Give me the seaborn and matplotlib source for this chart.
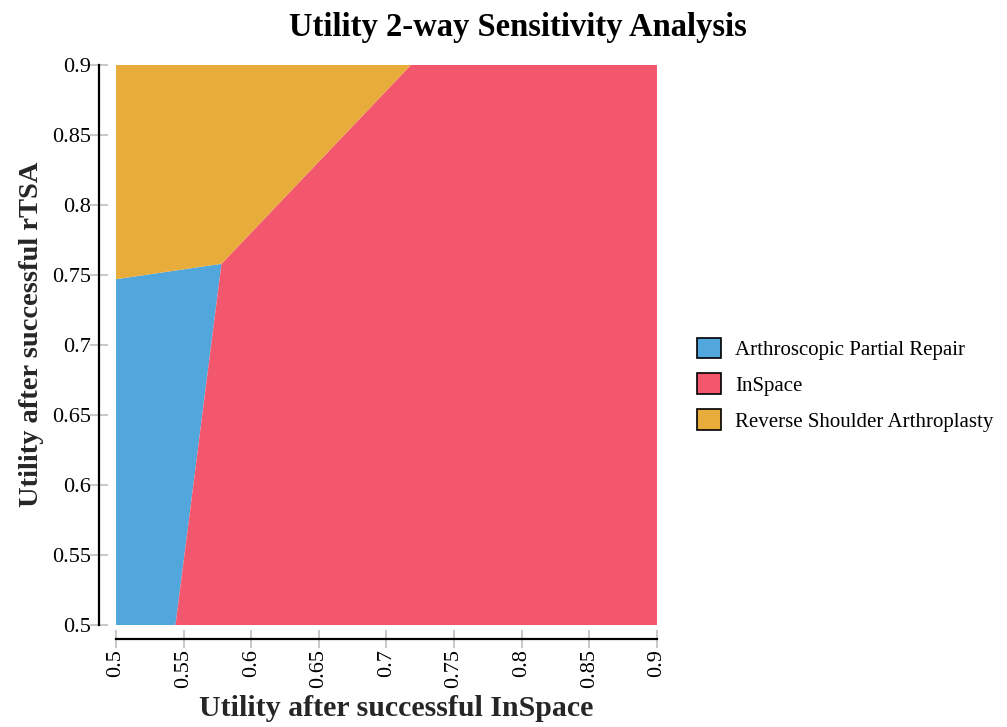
import matplotlib
matplotlib.use('Agg')
import matplotlib.pyplot as plt
import seaborn as sns
from matplotlib.patches import Patch

sns.set_theme(style='ticks')
plt.rcParams['font.family'] = ['Liberation Serif', 'DejaVu Serif']
plt.rcParams['text.color'] = 'black'

# strategy regions (boundary vertices)
strategies = ['Arthroscopic Partial Repair', 'InSpace', 'Reverse Shoulder Arthroplasty']
colors = ['#51A7DB', '#F3576E', '#E8AC3B']

apr_x = [0.5, 0.544, 0.578, 0.5]
apr_y = [0.5, 0.5, 0.758, 0.747]
insp_x = [0.544, 0.9, 0.9, 0.718, 0.578]
insp_y = [0.5, 0.5, 0.9, 0.9, 0.758]
rsa_x = [0.5, 0.578, 0.718, 0.5]
rsa_y = [0.747, 0.758, 0.9, 0.9]

ticks = [0.5, 0.55, 0.6, 0.65, 0.7, 0.75, 0.8, 0.85, 0.9]
tick_labels = ['0.5', '0.55', '0.6', '0.65', '0.7', '0.75', '0.8', '0.85', '0.9']

fig = plt.figure(figsize=(10.07, 7.27), dpi=100)
ax = fig.add_axes([0.1152, 0.1403, 0.5372, 0.7703])

for xs, ys, c in zip([apr_x, insp_x, rsa_x], [apr_y, insp_y, rsa_y], colors):
    ax.fill(xs, ys, color=c, linewidth=0)

ax.set_xlim(0.5, 0.9)
ax.set_ylim(0.5, 0.9)
ax.set_xticks(ticks)
ax.set_xticklabels(tick_labels)
ax.set_yticks(ticks)
ax.set_yticklabels(tick_labels)

for side in ['top', 'right']:
    ax.spines[side].set_visible(False)
ax.spines['left'].set_position(('outward', 12))
ax.spines['bottom'].set_position(('outward', 10))
for side in ['left', 'bottom']:
    ax.spines[side].set_color('black')
    ax.spines[side].set_linewidth(1.6)
ax.tick_params(axis='both', direction='inout', length=12.5, width=1.4,
               color='#c8c8c8', labelsize=16, labelcolor='black',
               bottom=True, left=True)
ax.tick_params(axis='x', labelrotation=90, pad=1)
ax.tick_params(axis='y', pad=0)

fig.text(0.514, 0.962, 'Utility 2-way Sensitivity Analysis', fontsize=23.5,
         fontweight='bold', ha='center', va='center')
ax.set_xlabel('Utility after successful InSpace', fontsize=21.5, fontweight='bold')
ax.set_ylabel('Utility after successful rTSA', fontsize=20.5, fontweight='bold')
ax.xaxis.set_label_coords(0.5176, -0.125)
ax.yaxis.set_label_coords(-0.133, 0.52)

handles = [Patch(facecolor=c, edgecolor='black', linewidth=1.2, label=s)
           for s, c in zip(strategies, colors)]
fig.legend(handles=handles, loc='center left', bbox_to_anchor=(0.674, 0.471),
           frameon=False, fontsize=15, handlelength=1.15, handleheight=1.15,
           handletextpad=0.67, labelspacing=0.64)

fig.savefig('out.png', dpi=100)
